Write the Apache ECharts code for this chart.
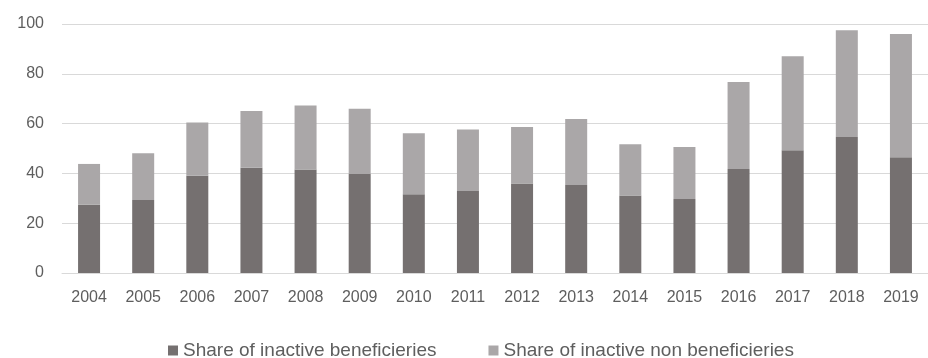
<!DOCTYPE html>
<html>
<head>
<meta charset="utf-8">
<script src="https://cdn.jsdelivr.net/npm/echarts@6/dist/echarts.min.js"></script>
<style>
  html, body { margin: 0; padding: 0; background: #fff; }
  #chart { width: 928px; height: 358px; }
</style>
</head>
<body>
<div id="chart"></div>
<script>
const years = ['2004', '2005', '2006', '2007', '2008', '2009', '2010', '2011',
               '2012', '2013', '2014', '2015', '2016', '2017', '2018', '2019'];
const beneficiaries = [27.4, 29.3, 39.1, 42.3, 41.6, 39.8, 31.6, 32.9,
                       35.9, 35.3, 31.1, 29.7, 41.8, 49.3, 54.6, 46.5];
const nonBeneficiaries = [16.4, 18.8, 21.3, 22.8, 25.7, 26.2, 24.5, 24.7,
                          22.7, 26.5, 20.6, 20.9, 34.9, 37.7, 42.9, 49.5];
const yTicks = [0, 20, 40, 60, 80, 100];

const font = '"Liberation Sans", Arial, sans-serif';
const textColor = '#5e5e5e';

let chart = echarts.init(document.getElementById('chart'));
let option = {
    animation: false,
    color: ['#757070', '#aaa7a8'],
    grid: {
        left: 62,
        right: -5,
        top: 24,
        bottom: 85
    },
    legend: {
        top: 336,
        left: 163,
        itemWidth: 10,
        itemHeight: 10,
        itemGap: 52,
        icon: 'rect',
        textStyle: {color: textColor, fontSize: 19, fontFamily: font}
    },
    xAxis: {
        type: 'category',
        data: years,
        axisTick: {show: false},
        axisLine: {lineStyle: {color: '#d9d9d9', width: 1}},
        axisLabel: {color: textColor, fontSize: 16, fontFamily: font, margin: 17}
    },
    yAxis: {
        type: 'value',
        min: yTicks[0],
        max: yTicks[yTicks.length - 1],
        interval: 20,
        axisLine: {show: false},
        axisTick: {show: false},
        splitLine: {lineStyle: {color: '#d9d9d9', width: 1}},
        axisLabel: {color: textColor, fontSize: 16, fontFamily: font, margin: 18}
    },
    series: [{
        name: 'Share of inactive beneficieries',
        type: 'bar',
        stack: 'total',
        barWidth: 22,
        data: beneficiaries
    }, {
        name: 'Share of inactive non beneficieries',
        type: 'bar',
        stack: 'total',
        barWidth: 22,
        data: nonBeneficiaries
    }]
};
chart.setOption(option);
</script>
</body>
</html>
